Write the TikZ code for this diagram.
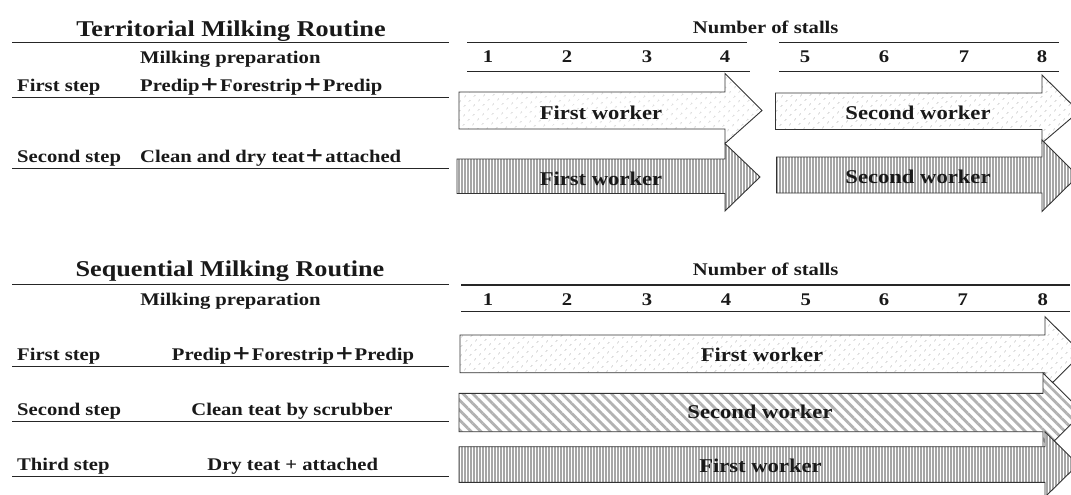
\documentclass[tikz,border=0pt]{standalone}
\usepackage{fontspec}
\setmainfont{Liberation Serif}[FakeStretch=1.16]
\newfontfamily\cjk{Noto Sans CJK SC}[FakeStretch=1.16]
\usetikzlibrary{patterns.meta}
\newcommand{\wplus}{{\cjk ＋}}

\begin{document}
\begin{tikzpicture}[x=1pt,y=-1pt,
    rule/.style={line width=1.1pt,draw=black!85},
    txt/.style={inner sep=0pt,anchor=base,text=black!90,
                font=\fontsize{17.8}{20}\selectfont\bfseries},
    ttl/.style={txt,font=\fontsize{22.6}{26}\selectfont\bfseries},
    wlab/.style={txt,font=\fontsize{19.5}{22}\selectfont\bfseries},
    warrow/.style={draw=black!80,line width=0.9pt,preaction={fill=white}},
    dotsarrow/.style={warrow,pattern={Dots[angle=45,distance=6.4pt,radius=0.75pt]},pattern color=black!40},
    vlinesarrow/.style={warrow,pattern={Lines[angle=90,distance=3pt,line width=1.4pt]},pattern color=black!35},
    hatcharrow/.style={warrow,pattern={Lines[angle=-45,distance=7pt,line width=2.8pt]},pattern color=black!30}]
    \useasboundingbox (0,0) rectangle (1071,495);

    % territorial routine, left table
    \node[ttl] (tertitle) at (231,36.5) {Territorial Milking Routine};
    \node[txt,anchor=base west] (terprep) at (140,63.3) {Milking preparation};
    \node[txt,anchor=base west] (terstepA) at (17,91.7) {First step};
    \node[txt,anchor=base west] (tertaskA) at (140,91.7) {Predip\wplus Forestrip\wplus Predip};
    \node[txt,anchor=base west] (terstepB) at (17,162.3) {Second step};
    \node[txt,anchor=base west] (tertaskB) at (140,162.3) {Clean and dry teat\wplus attached};
    \draw[rule] (12,42.7) -- (449,42.7);
    \draw[rule] (12,97.7) -- (449,97.7);
    \draw[rule] (12,168.3) -- (449,168.3);

    % territorial routine, stalls
    \node[txt] (terstalls) at (765.7,33.3) {Number of stalls};
    \foreach \n/\x in {1/488,2/567,3/647,4/725,5/805,6/884,7/964,8/1042}
             {
               \node[txt] (tern\n) at (\x,63) {\n};
             }
    \draw[rule] (467,42.7) -- (747,42.7);
    \draw[rule] (779,42.7) -- (1059,42.7);
    \draw[rule] (467,71.7) -- (750,71.7);
    \draw[rule] (779,71.7) -- (1059,71.7);

    \draw[dotsarrow] (459,92) -- (725,92) -- (725,73.5) -- (762,110.5)
                  -- (725,143.5) -- (725,129) -- (459,129) -- cycle;
    \draw[dotsarrow] (775.5,93) -- (1042,93) -- (1042,75) -- (1079,111.5)
                  -- (1042,143) -- (1042,129.5) -- (775.5,129.5) -- cycle;
    \draw[vlinesarrow] (457,159) -- (725,159) -- (725,143.5) -- (760,177)
                  -- (725,211) -- (725,193.5) -- (457,193.5) -- cycle;
    \draw[vlinesarrow] (776.5,157) -- (1042,157) -- (1042,140) -- (1078,176)
                  -- (1042,211.5) -- (1042,193) -- (776.5,193) -- cycle;
    \node[wlab] (terwA) at (601,119) {First worker};
    \node[wlab] (terwB) at (918,119.3) {Second worker};
    \node[wlab] (terwC) at (601,185) {First worker};
    \node[wlab] (terwD) at (918,183.5) {Second worker};

    % sequential routine, left table
    \node[ttl] (seqtitle) at (230,276.7) {Sequential Milking Routine};
    \node[txt] (seqprep) at (230.5,305) {Milking preparation};
    \node[txt,anchor=base west] (seqstepA) at (17,360) {First step};
    \node[txt] (seqtaskA) at (293,360) {Predip\wplus Forestrip\wplus Predip};
    \node[txt,anchor=base west] (seqstepB) at (17,415.7) {Second step};
    \node[txt] (seqtaskB) at (292,415.7) {Clean teat by scrubber};
    \node[txt,anchor=base west] (seqstepC) at (17,470.7) {Third step};
    \node[txt] (seqtaskC) at (292.7,470.7) {Dry teat + attached};
    \draw[rule] (12,284.3) -- (449,284.3);
    \draw[rule] (12,366.7) -- (449,366.7);
    \draw[rule] (12,421.7) -- (449,421.7);
    \draw[rule] (12,476.7) -- (449,476.7);

    % sequential routine, stalls
    \node[txt] (seqstalls) at (765.7,275) {Number of stalls};
    \foreach \n/\x in {1/488,2/567,3/647,4/726,5/805.7,6/884,7/962.7,8/1042.7}
             {
               \node[txt] (seqn\n) at (\x,305) {\n};
             }
    \draw[rule] (461,285) -- (1070,285);
    \draw[rule] (461,311.7) -- (1070,311.7);

    \draw[dotsarrow] (460,335) -- (1045,335) -- (1045,316.7) -- (1082,353.5)
                  -- (1045,390) -- (1045,372.7) -- (460,372.7) -- cycle;
    \draw[hatcharrow] (459,393.3) -- (1043,393.3) -- (1043,373) -- (1083,412.5)
                  -- (1043,452) -- (1043,431.7) -- (459,431.7) -- cycle;
    \draw[vlinesarrow] (459,446.7) -- (1045,446.7) -- (1045,431.7) -- (1078,464.5)
                  -- (1045,497) -- (1045,482.3) -- (459,482.3) -- cycle;
    \node[wlab] (seqwA) at (762,361.7) {First worker};
    \node[wlab] (seqwB) at (760,418) {Second worker};
    \node[wlab] (seqwC) at (760.5,472.7) {First worker};
\end{tikzpicture}
\end{document}
